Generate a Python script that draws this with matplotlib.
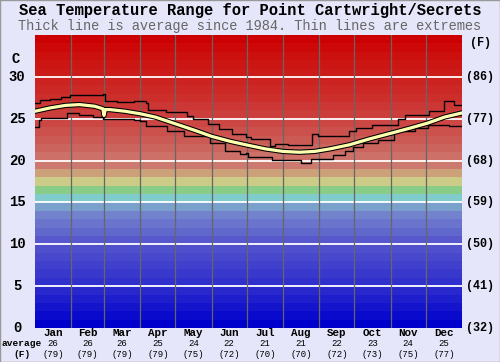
import matplotlib
matplotlib.use('Agg')
import matplotlib.pyplot as plt
import matplotlib.patheffects as pe
from matplotlib.patches import Rectangle
from matplotlib.transforms import blended_transform_factory

# month info
months = ['Jan', 'Feb', 'Mar', 'Apr', 'May', 'Jun',
          'Jul', 'Aug', 'Sep', 'Oct', 'Nov', 'Dec']
month_len = [31, 28, 31, 30, 31, 30, 31, 31, 30, 31, 30, 31]
avg_c = [26, 26, 26, 25, 24, 22, 21, 21, 22, 23, 24, 25]
avg_f = [79, 79, 79, 79, 75, 72, 70, 70, 72, 73, 75, 77]

# average line (day of year, deg C)
avg_day = [0, 13, 26, 38, 51, 58, 59, 60, 64, 77, 90, 103, 120, 137, 151,
           167, 180, 197, 212, 226, 239, 252, 269, 286, 305, 321, 336, 350, 365]
avg_temp = [25.9, 26.3, 26.6, 26.7, 26.5, 26.2, 25.4, 26.1, 26.1, 25.9, 25.6,
            25.2, 24.4, 23.6, 22.9, 22.3, 21.9, 21.4, 21.1, 21.0, 21.1, 21.4,
            21.9, 22.6, 23.3, 23.9, 24.5, 25.2, 25.7]

# extremes, stepped
max_day = [0, 4, 13, 22, 30, 45, 58, 60, 70, 85, 95, 97, 112, 130, 135, 148,
           157, 168, 180, 185, 201, 205, 216, 237, 242, 268, 274, 288, 310,
           316, 337, 350, 358, 365]
max_temp = [26.9, 27.2, 27.4, 27.6, 27.8, 27.9, 28.0, 27.1, 27.0, 27.1, 26.9,
            26.1, 25.8, 25.3, 25.0, 24.4, 23.8, 23.2, 22.8, 22.6, 21.7, 22.0,
            21.9, 23.2, 22.9, 23.5, 23.9, 24.2, 25.0, 25.4, 25.9, 27.1, 26.7,
            26.7]
min_day = [0, 3, 5, 27, 38, 50, 58, 85, 90, 95, 113, 127, 150, 162, 175, 180,
           182, 203, 227, 236, 255, 265, 272, 280, 293, 307, 325, 336, 354, 365]
min_temp = [24.0, 24.8, 25.1, 25.7, 25.5, 25.2, 25.0, 24.9, 24.7, 24.1, 23.5,
            22.9, 22.1, 21.1, 20.8, 20.9, 20.4, 20.1, 19.7, 20.2, 20.7, 21.1,
            21.6, 22.1, 22.5, 23.5, 23.9, 24.3, 24.1, 24.1]

# background bands, one per degree from 0 to 35
band_colors = ['#0000cc', '#0a0acc', '#1414cc', '#1e1ecc', '#2828cc',
               '#3030cc', '#3838cc', '#4040cc', '#4848cc', '#5050cc',
               '#5858cc', '#6068cc', '#6a74cc', '#7282cc', '#7aa0cc',
               '#80cccc', '#88cc88', '#cccc88', '#cca078', '#cc7a70',
               '#cc7068', '#cc645e', '#cc5a54', '#cc504c', '#cc4644',
               '#cc3e3c', '#cc3634', '#cc2e2c', '#cc2826', '#cc2220',
               '#cc1c1a', '#cc1614', '#cc100e', '#cc0808', '#cc0000']

mono = 'Liberation Mono'

fig = plt.figure(figsize=(5, 3.62), dpi=100, facecolor='#e6e6fa')
ax = fig.add_axes([0.07, 0.094, 0.854, 0.809])

for i, c in enumerate(band_colors):
    ax.axhspan(i, i + 1, color=c, lw=0, zorder=0)

for t in range(5, 35, 5):
    ax.axhline(t, color='white', lw=1.3, zorder=1)

edge = 0
for n in month_len[:-1]:
    edge += n
    ax.axvline(edge, color='#666666', lw=0.9, zorder=1)

ax.step(max_day, max_temp, where='post', color='black', lw=1.0, zorder=3)
ax.step(min_day, min_temp, where='post', color='black', lw=1.0, zorder=3)
ax.plot(avg_day, avg_temp, color='#ffffb0', lw=2.3, zorder=4,
        path_effects=[pe.Stroke(linewidth=3.8, foreground='black'), pe.Normal()])

ax.set_xlim(0, 365)
ax.set_ylim(0, 35)
ax.set_xticks([])
ax.set_yticks([])
for s in ax.spines.values():
    s.set_visible(False)

# axis labels
lt = blended_transform_factory(fig.transFigure, ax.transData)
for t in range(0, 35, 5):
    ax.text(0.034, t, str(t), transform=lt, ha='center', va='center',
            family=mono, fontsize=10, fontweight='bold', clip_on=False)
    ax.text(0.96, t, '(%d)' % round(t * 9 / 5 + 32), transform=lt,
            ha='center', va='center', family=mono, fontsize=8.5,
            fontweight='bold', clip_on=False)
ax.text(0.032, 32.1, 'C', transform=lt, ha='center', va='center',
        family=mono, fontsize=10, fontweight='bold', clip_on=False)
ax.text(0.96, 34.1, '(F)', transform=lt, ha='center', va='center',
        family=mono, fontsize=8.5, fontweight='bold', clip_on=False)

# month labels
bt = blended_transform_factory(ax.transData, fig.transFigure)
start = 0
for m, n, c, f in zip(months, month_len, avg_c, avg_f):
    mid = start + n / 2
    ax.text(mid, 0.079, m, transform=bt, ha='center', va='center',
            family=mono, fontsize=7.8, fontweight='bold')
    ax.text(mid, 0.051, str(c), transform=bt, ha='center', va='center',
            family=mono, fontsize=6.5)
    ax.text(mid, 0.022, '(%d)' % f, transform=bt, ha='center', va='center',
            family=mono, fontsize=6.5)
    start += n
fig.text(0.044, 0.051, 'average', ha='center', va='center', family=mono,
         fontsize=6.8, fontweight='bold')
fig.text(0.044, 0.022, '(F)', ha='center', va='center', family=mono,
         fontsize=6.8, fontweight='bold')

# titles
fig.text(0.5, 0.970, 'Sea Temperature Range for Point Cartwright/Secrets',
         ha='center', va='center', family=mono, fontsize=11.2,
         fontweight='bold')
fig.text(0.5, 0.927,
         'Thick line is average since 1984. Thin lines are extremes',
         ha='center', va='center', family=mono, fontsize=9.8, color='#666666')

fig.add_artist(Rectangle((0, 0), 1, 1, transform=fig.transFigure,
                         fill=False, edgecolor='#999999', lw=1))

fig.savefig('out.png', dpi=100, facecolor=fig.get_facecolor())
